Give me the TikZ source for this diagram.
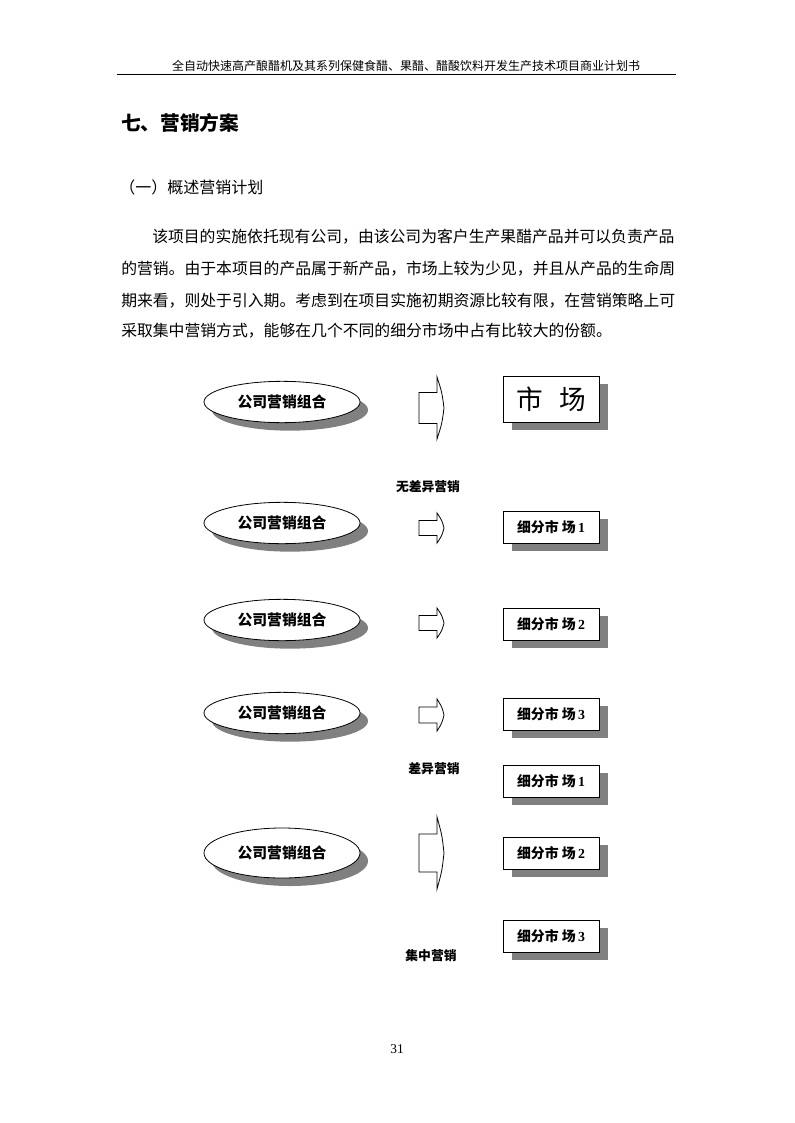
\documentclass[tikz,border=0pt]{standalone}
\usepackage{fontspec}
\newfontfamily\cjk{Noto Sans CJK SC}
\newfontfamily\tnr{Liberation Serif}
\usetikzlibrary{shapes.geometric,shadows}

% block arrow: centre y, shaft half height, head half height
\newcommand{\fatarrow}[3]{%
  \draw[fat] (437,#1-#2) -- (419,#1-#2) -- (419,#1+#2) -- (437,#1+#2) -- (437,#1+#3)
    .. controls (442,#1+#3*0.5) .. (444,#1) .. controls (442,#1-#3*0.5) .. (437,#1-#3) -- cycle;}

\begin{document}
\begin{tikzpicture}[x=0.75pt, y=-0.75pt,
  combo/.style={ellipse, draw, line width=0.6pt, fill=white, minimum width=117pt, minimum height=31pt, inner sep=0pt,
    font=\cjk\bfseries\fontsize{11.1}{13}\selectfont,
    drop shadow={shadow xshift=6pt, shadow yshift=-6pt, fill=black!50, opacity=1}},
  market/.style={draw, rectangle, line width=0.6pt, fill=white, minimum width=72pt, minimum height=24pt, inner sep=0pt,
    font=\cjk\bfseries\fontsize{10.4}{12}\selectfont,
    drop shadow={shadow xshift=6.5pt, shadow yshift=-6pt, fill=black!50, opacity=1}},
  tag/.style={inner sep=0pt, font=\cjk\bfseries\fontsize{9.6}{11}\selectfont},
  body/.style={anchor=west, inner sep=0pt, font=\cjk\fontsize{11.87}{14}\selectfont},
  fat/.style={line width=0.6pt, fill=white}
]
\useasboundingbox[fill=white] (0,0) rectangle (794,1123);

% page head
\node[inner sep=0pt, font=\cjk\fontsize{9}{11}\selectfont] (head) at (406,66) {全自动快速高产酿醋机及其系列保健食醋、果醋、醋酸饮料开发生产技术项目商业计划书};
\draw[line width=0.6pt] (117,74) -- (676,74);

% headings and text
\node[anchor=west, inner sep=0pt, font=\cjk\bfseries\fontsize{14.75}{17}\selectfont] (title) at (121,123) {七、营销方案};
\node[anchor=west, inner sep=0pt, font=\cjk\fontsize{12}{14}\selectfont] (sub) at (119,187) {（一）概述营销计划};
\node[body] (l1) at (152,237) {该项目的实施依托现有公司，由该公司为客户生产果醋产品并可以负责产品};
\node[body] (l2) at (121,269) {的营销。由于本项目的产品属于新产品，市场上较为少见，并且从产品的生命周};
\node[body] (l3) at (121,301) {期来看，则处于引入期。考虑到在项目实施初期资源比较有限，在营销策略上可};
\node[body] (l4) at (121,331) {采取集中营销方式，能够在几个不同的细分市场中占有比较大的份额。};

% undifferentiated
\node[combo] (mix1) at (282,402) {公司营销组合};
\fatarrow{408}{15.5}{31}
\node[market, minimum height=34.5pt, font=\cjk\fontsize{20}{22}\selectfont] (mkt) at (551,399) {市\hspace{12pt}场};
\node[tag] (t1) at (428,487) {无差异营销};

% differentiated
\node[combo] (mix2) at (282,523) {公司营销组合};
\fatarrow{528}{7.5}{15}
\node[market] (seg1) at (551,527) {细分市~场\,{\tnr\bfseries 1}};

\node[combo] (mix3) at (282,620) {公司营销组合};
\fatarrow{623}{7.5}{15}
\node[market] (seg2) at (551,624) {细分市~场\,{\tnr\bfseries 2}};

\node[combo] (mix4) at (282,713) {公司营销组合};
\fatarrow{715}{8}{16}
\node[market] (seg3) at (551,714) {细分市~场\,{\tnr\bfseries 3}};
\node[tag] (t2) at (434,769) {差异营销};

% concentrated
\node[market] (seg4) at (551,781) {细分市~场\,{\tnr\bfseries 1}};
\node[combo, minimum height=37.5pt] (mix5) at (282,853) {公司营销组合};
\fatarrow{853}{19}{36}
\node[market] (seg5) at (551,853) {细分市~场\,{\tnr\bfseries 2}};
\node[market] (seg6) at (551,936) {细分市~场\,{\tnr\bfseries 3}};
\node[tag] (t3) at (431,956) {集中营销};

% page number
\node[inner sep=0pt, font=\tnr\fontsize{10}{12}\selectfont] (pg) at (397,1049) {31};
\end{tikzpicture}
\end{document}
